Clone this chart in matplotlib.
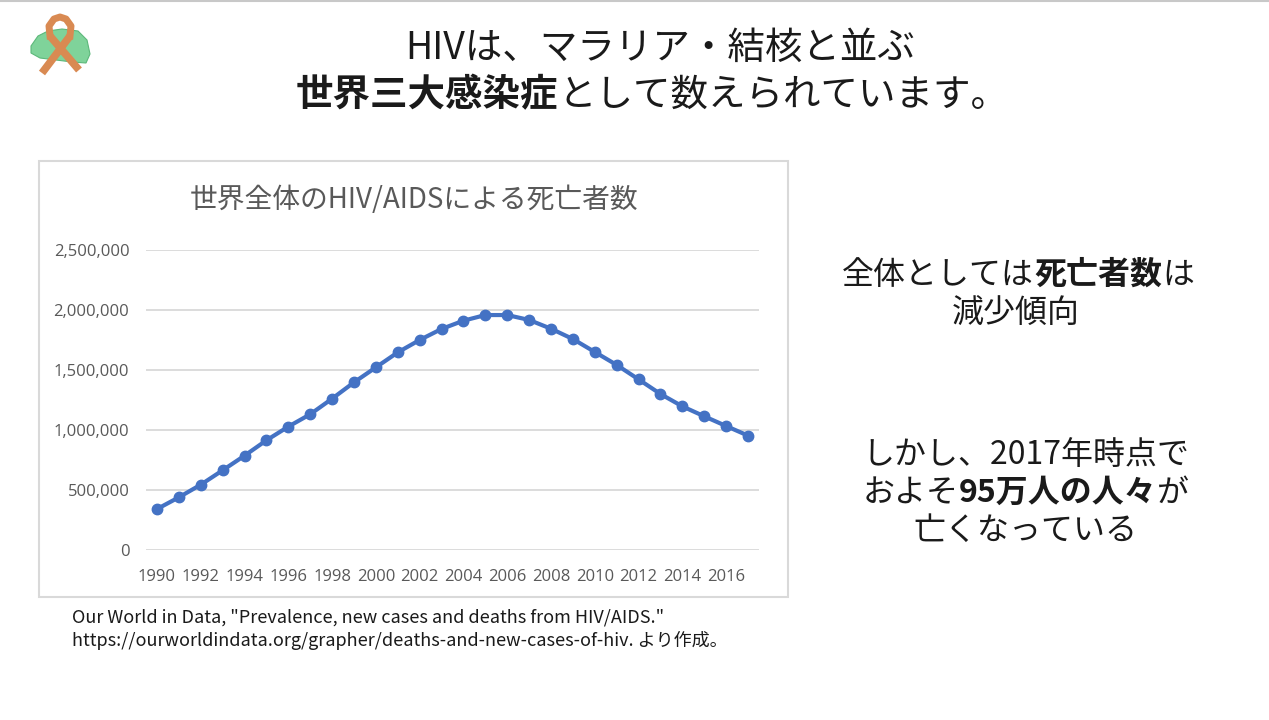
"""HIV/AIDS deaths slide: line chart of worldwide deaths plus slide text."""

import matplotlib

matplotlib.use("Agg")
import matplotlib.pyplot as plt
from matplotlib.patches import Polygon, Rectangle

JP = ["Noto Sans CJK JP", "DejaVu Sans"]
plt.rcParams["font.family"] = JP

years = list(range(1990, 2018))
deaths = [
    341000, 439000, 544000, 664000, 786000, 914000, 1028000, 1131000,
    1261000, 1397000, 1522000, 1647000, 1750000, 1842000, 1911000, 1958000,
    1958000, 1917000, 1844000, 1758000, 1650000, 1542000, 1422000, 1300000,
    1197000, 1114000, 1033000, 953000,
]
y_ticks = [0, 500000, 1000000, 1500000, 2000000, 2500000]
x_tick_years = years[::2]

chart_title = "世界全体のHIV/AIDSによる死亡者数"
source_lines = [
    'Our World in Data, "Prevalence, new cases and deaths from HIV/AIDS."',
    "https://ourworldindata.org/grapher/deaths-and-new-cases-of-hiv. より作成。",
]

W, H = 1269, 720
fig = plt.figure(figsize=(W / 100, H / 100), dpi=100)

# full-slide overlay in pixel coordinates (y downwards)
bg = fig.add_axes([0, 0, 1, 1])
bg.set_xlim(0, W)
bg.set_ylim(H, 0)
bg.axis("off")

bg.plot([0, W], [1, 1], color="#c8c8c8", lw=1.5)
bg.add_patch(Rectangle((39, 161), 749, 436, fill=False, ec="#d9d9d9", lw=1.5))

# small ribbon logo
bg.add_patch(Polygon([(31, 46), (38, 36), (48, 31), (62, 29), (78, 31), (87, 40),
                      (90, 54), (86, 63), (72, 62), (56, 60), (40, 58), (31, 53)],
                     closed=True, fc="#7fd39a", ec="#5cb87a", lw=0.8))
ribbon = "#d98a52"
bg.plot([42, 70], [73, 36], color=ribbon, lw=5.5, solid_capstyle="butt")
bg.plot([70, 71, 66, 60, 54, 49, 50], [36, 26, 19, 17, 19, 26, 36], color=ribbon, lw=5)
bg.plot([50, 79], [36, 70], color=ribbon, lw=5.5, solid_capstyle="butt")

renderer = fig.canvas.get_renderer()


def mixed_line(segments, cx, y, size, color="#1a1a1a"):
    """Draw a centred line made of (text, weight) pieces."""
    texts = [bg.text(0, y, s, fontsize=size, fontweight=w, color=color,
                     ha="left", va="center") for s, w in segments]
    widths = [t.get_window_extent(renderer).width for t in texts]
    x = cx - sum(widths) / 2
    for t, wd in zip(texts, widths):
        t.set_x(x)
        x += wd


mixed_line([("HIVは、マラリア・結核と並ぶ", "normal")], 660, 48, 27)
mixed_line([("世界三大感染症", "bold"), ("として数えられています。", "normal")], 652, 95, 27)

mixed_line([("全体としては", "normal"), ("死亡者数", "bold"), ("は", "normal")], 1018, 275, 23)
mixed_line([("減少傾向", "normal")], 1016, 314, 23)
mixed_line([("しかし、2017年時点で", "normal")], 1026, 455, 23)
mixed_line([("およそ", "normal"), ("95万人の人々", "bold"), ("が", "normal")], 1026, 493, 23)
mixed_line([("亡くなっている", "normal")], 1025, 531, 23)

for i, line in enumerate(source_lines):
    bg.text(72, 617 + 23 * i, line, fontsize=13, color="#1a1a1a", ha="left", va="center")

bg.text(414, 200, chart_title, fontsize=20, color="#595959", ha="center", va="center")

# the chart itself
ax = fig.add_axes([146 / W, 170 / H, 613 / W, 300 / H])
ax.patch.set_alpha(0)
ax.plot(years, deaths, color="#4472c4", lw=3, marker="o", ms=7.5, zorder=3)
ax.set_xlim(years[0] - 0.5, years[-1] + 0.5)
ax.set_ylim(0, 2500000)
ax.set_yticks(y_ticks)
ax.set_yticklabels([f"{v:,}" for v in y_ticks])
ax.set_xticks(x_tick_years)
ax.set_xticklabels([str(v) for v in x_tick_years])
ax.grid(axis="y", color="#d9d9d9", lw=1.3)
ax.set_axisbelow(True)
for s in ax.spines.values():
    s.set_visible(False)
ax.tick_params(length=0, labelsize=12, labelcolor="#595959")
for lab in ax.get_xticklabels() + ax.get_yticklabels():
    lab.set_family(["Open Sans", "DejaVu Sans"])
ax.tick_params(axis="x", pad=14)
ax.tick_params(axis="y", pad=12)

fig.savefig("out.png", dpi=100)
